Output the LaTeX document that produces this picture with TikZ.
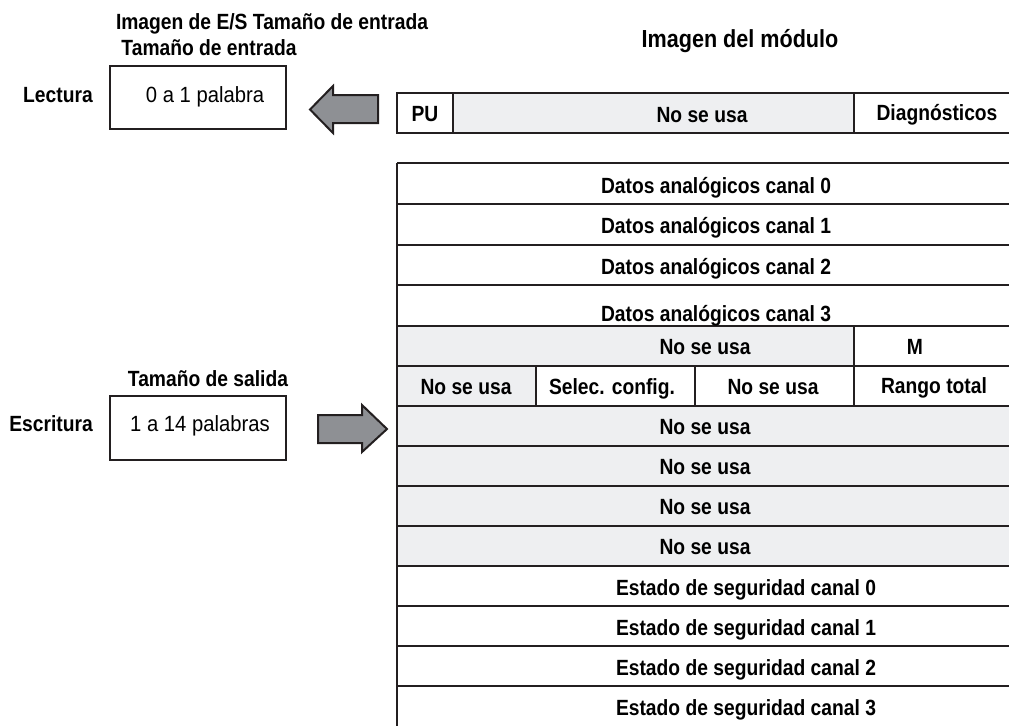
\documentclass[tikz,border=0pt]{standalone}
\usepackage{fontspec}
\setmainfont{Liberation Sans}[FakeStretch=0.875]
\newfontfamily\plainfont{Liberation Sans}[FakeStretch=0.92]
\usetikzlibrary{positioning}
\definecolor{linegray}{HTML}{231F20}
\definecolor{cellgray}{HTML}{EEEFF1}
\definecolor{arrowgray}{HTML}{8E9094}
\tikzset{
    boldtext/.style={
        font=\fontsize{16.5}{19}\selectfont\bfseries,
        inner sep=0pt,
        anchor=base
    },
    plaintext/.style={
        font=\plainfont\fontsize{16.5}{19}\selectfont,
        inner sep=0pt,
        anchor=base
    },
    sizebox/.style={
        draw=linegray,
        line width=1.5pt,
        minimum width=132pt,
        minimum height=47.5pt
    },
    tableline/.style={
        draw=linegray,
        line width=1.9pt
    },
    blockarrow/.style={
        draw=linegray,
        fill=arrowgray,
        line width=1.5pt,
        line join=miter
    }
}

\begin{document}
\begin{tikzpicture}[x=0.75pt,y=-0.75pt]
\useasboundingbox (0,0) rectangle (1009,726);

% titulos
\node[boldtext] (title) at (272,29) {Imagen de E/S Tama\~no de entrada};
\node[boldtext] (intitle) at (209,55) {Tama\~no de entrada};
\node[boldtext, font=\fontsize{18.5}{22}\selectfont\bfseries] (modtitle) at (740,47) {Imagen del m\'odulo};
\node[boldtext] (outtitle) at (208,386) {Tama\~no de salida};

% cajas de tamano
\node[sizebox] (inbox) at (198,97.5) {};
\node[sizebox] (outbox) at (198,428) {};
\node[plaintext] (insize) at (205,102) {0 a 1 palabra};
\node[plaintext] (outsize) at (200,431) {1 a 14 palabras};
\node[boldtext, anchor=east, left=12pt of inbox, yshift=2pt] (lectura) {Lectura};
\node[boldtext, anchor=east, left=12pt of outbox, yshift=3pt] (escritura) {Escritura};

% flechas
\draw[blockarrow] (378,95) -- (333,95) -- (333,86) -- (310,109.5)
    -- (333,133) -- (333,123) -- (378,123) -- cycle;
\draw[blockarrow] (318,415) -- (362,415) -- (362,405) -- (387,429)
    -- (362,452) -- (362,443) -- (318,443) -- cycle;

% fila PU
\fill[cellgray] (453,93) rectangle (854,133);
\draw[tableline] (1009,93) -- (397,93) -- (397,133) -- (1009,133);
\draw[tableline] (453,93) -- (453,133);
\draw[tableline] (854,93) -- (854,133);
\node[boldtext] (pu) at (425,121) {PU};
\node[boldtext] (pufree) at (702,122) {No se usa};
\node[boldtext] (diag) at (937,120) {Diagn\'osticos};

% tabla del modulo
\fill[cellgray] (397,326) rectangle (854,366);
\fill[cellgray] (397,366) rectangle (536,406);
\fill[cellgray] (397,406) rectangle (1009,566);
\foreach \y in {163,204,245,285,326,366,406,446,486,526,566,606,646,686}
    \draw[tableline] (397,\y) -- (1009,\y);
\draw[tableline] (397,163) -- (397,726);
\draw[tableline] (854,326) -- (854,406);
\draw[tableline] (536,366) -- (536,406);
\draw[tableline] (695,366) -- (695,406);

% textos de las filas
\foreach \i/\y in {0/193,1/233,2/274,3/321}
    \node[boldtext] (data\i) at (716,\y) {Datos anal\'ogicos canal \i};
\node[boldtext] (free4) at (705,354) {No se usa};
\node[boldtext] (mbit) at (915,354) {M};
\node[boldtext] (free5a) at (466,394) {No se usa};
\node[boldtext] (cfgsel) at (612,394) {Selec. config.};
\node[boldtext] (free5b) at (773,394) {No se usa};
\node[boldtext] (range) at (934,393) {Rango total};
\foreach \i/\y in {6/434,7/474,8/514,9/554}
    \node[boldtext] (free\i) at (705,\y) {No se usa};
\foreach \i/\y in {0/595,1/635,2/675,3/715}
    \node[boldtext] (safe\i) at (746,\y) {Estado de seguridad canal \i};
\end{tikzpicture}
\end{document}
